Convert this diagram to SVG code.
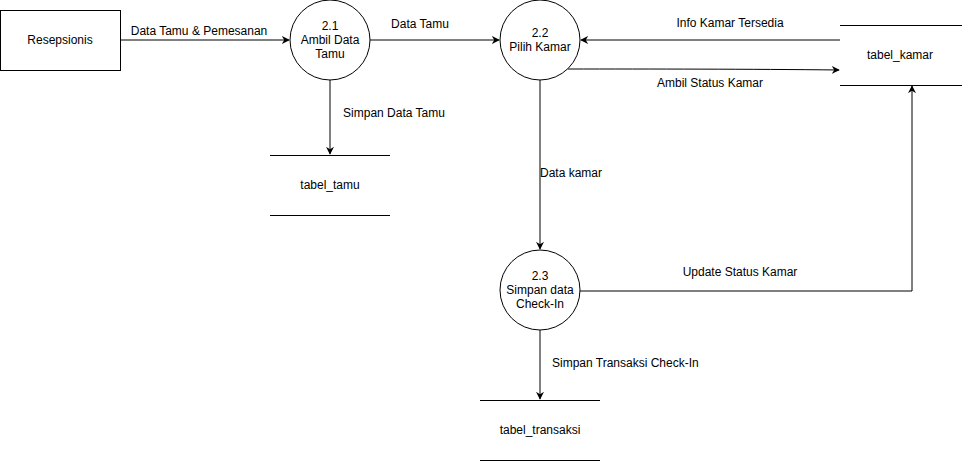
<svg xmlns="http://www.w3.org/2000/svg" width="962" height="462" viewBox="0 0 962 462">
<style>
text{font-family:"Liberation Sans",Arial,sans-serif;font-size:12px;fill:#000}
.c{text-anchor:middle}
.s{fill:#fff;stroke:#000;stroke-width:1}
.l{fill:none;stroke:#000;stroke-width:1}
</style>
<defs>
<marker id="a" viewBox="0 0 10 10" refX="9" refY="5" markerWidth="8" markerHeight="8" markerUnits="userSpaceOnUse" orient="auto">
<path d="M0,0 L10,5 L0,10 L3,5 Z" fill="#000"/>
</marker>
</defs>
<rect width="962" height="462" fill="#fff"/>
<g id="connectors">
<path class="l" d="M120,40 H289" marker-end="url(#a)"/>
<path class="l" d="M370,40 H499" marker-end="url(#a)"/>
<path class="l" d="M840,40 H581" marker-end="url(#a)"/>
<path class="l" d="M568,69 C650,69 750,69 839,70" marker-end="url(#a)"/>
<path class="l" d="M330,80 V154" marker-end="url(#a)"/>
<path class="l" d="M540,80 V249" marker-end="url(#a)"/>
<path class="l" d="M580,291 H912 V86" marker-end="url(#a)"/>
<path class="l" d="M540,330 V399" marker-end="url(#a)"/>
<text x="199" y="35" class="c">Data Tamu &amp; Pemesanan</text>
<text x="420" y="28" class="c">Data Tamu</text>
<text x="730" y="27" class="c">Info Kamar Tersedia</text>
<text x="710" y="87" class="c">Ambil Status Kamar</text>
<text x="394" y="117" class="c">Simpan Data Tamu</text>
<text x="540" y="177">Data kamar</text>
<text x="740" y="276" class="c">Update Status Kamar</text>
<text x="552" y="367">Simpan Transaksi Check-In</text>
</g>
<g id="resepsionis">
<rect class="s" x="0.5" y="10.5" width="120" height="60"/>
<text x="60" y="44" class="c">Resepsionis</text>
</g>
<g id="p21">
<circle class="s" cx="330" cy="40" r="40"/>
<text x="330" y="30" class="c">2.1</text>
<text x="330" y="44" class="c">Ambil Data</text>
<text x="330" y="58" class="c">Tamu</text>
</g>
<g id="p22">
<circle class="s" cx="540" cy="40" r="40"/>
<text x="540" y="37" class="c">2.2</text>
<text x="540" y="51" class="c">Pilih Kamar</text>
</g>
<g id="p23">
<circle class="s" cx="540" cy="290" r="40"/>
<text x="540" y="280" class="c">2.3</text>
<text x="540" y="294" class="c">Simpan data</text>
<text x="540" y="308" class="c">Check-In</text>
</g>
<g id="tabel_kamar">
<path class="l" d="M840,25.5 H962 M840,85.5 H962"/>
<text x="900" y="59" class="c">tabel_kamar</text>
</g>
<g id="tabel_tamu">
<path class="l" d="M270,155.5 H390 M270,215.5 H390"/>
<text x="330" y="189" class="c">tabel_tamu</text>
</g>
<g id="tabel_transaksi">
<path class="l" d="M480,400.5 H600 M480,460.5 H600"/>
<text x="540" y="434" class="c">tabel_transaksi</text>
</g>
</svg>
